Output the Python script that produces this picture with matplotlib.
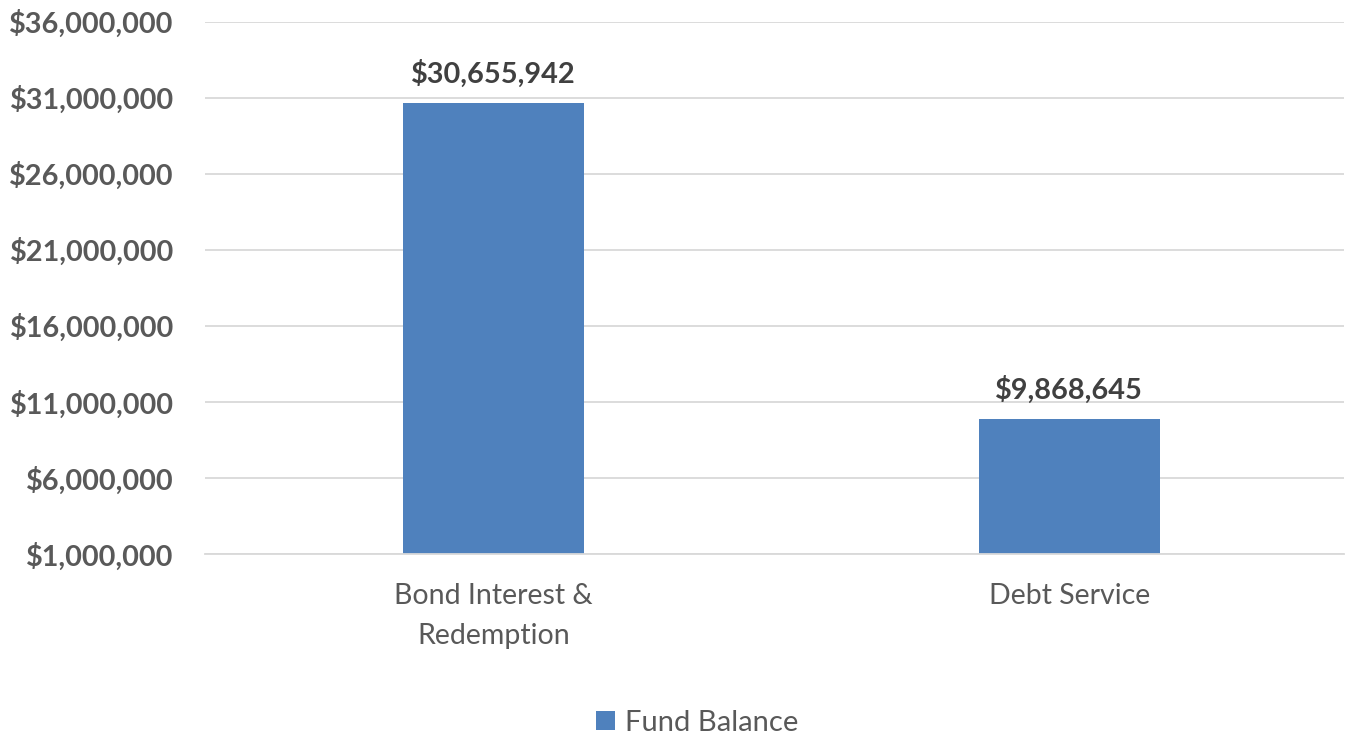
import matplotlib.pyplot as plt
from matplotlib.ticker import FuncFormatter

categories = ['Bond Interest &\nRedemption', 'Debt Service']
fund_balance = [30655942, 9868645]
y_ticks = [1000000, 6000000, 11000000, 16000000, 21000000, 26000000, 31000000, 36000000]

plt.rcParams['font.family'] = ['Lato', 'DejaVu Sans']
text_color = '#595959'
bar_color = '#4F81BD'

fig = plt.figure(figsize=(13.46, 7.35), dpi=100)
ax = fig.add_axes([0.1523, 0.2463, 0.8463, 0.7244])

x = list(range(len(categories)))
bars = ax.bar(x, fund_balance, width=0.315, color=bar_color, label='Fund Balance', zorder=2)

ax.set_ylim(y_ticks[0], y_ticks[-1])
ax.set_yticks(y_ticks)
ax.yaxis.set_major_formatter(FuncFormatter(lambda v, p: f'${v:,.0f}'))
ax.set_xlim(-0.501, 1.477)
ax.set_xticks(x)
ax.set_xticklabels(categories, fontsize=20.5, color=text_color, linespacing=1.65)

for lbl in ax.get_yticklabels():
    lbl.set_fontsize(20.8)
    lbl.set_fontweight('bold')
    lbl.set_color(text_color)

ax.tick_params(axis='y', length=0, pad=22.5)
ax.tick_params(axis='x', length=0, pad=21)
ax.grid(axis='y', color='#D9D9D9', linewidth=1.3, zorder=0)
for side in ['top', 'right', 'left']:
    ax.spines[side].set_visible(False)
ax.spines['bottom'].set_color('#D9D9D9')
ax.spines['bottom'].set_linewidth(1.3)

for xi, v in zip(x, fund_balance):
    ax.annotate(f'${v:,.0f}', (xi, v), xytext=(0, 11), textcoords='offset points',
                ha='center', va='bottom', fontsize=20.8, fontweight='bold', color='#404040')

fig.legend(handles=[bars], labels=['Fund Balance'], loc='center', bbox_to_anchor=(0.518, 0.017),
           frameon=False, fontsize=21, labelcolor=text_color, handlelength=0.65, handleheight=0.65,
           handletextpad=0.35)

fig.savefig('out.png', dpi=100)
